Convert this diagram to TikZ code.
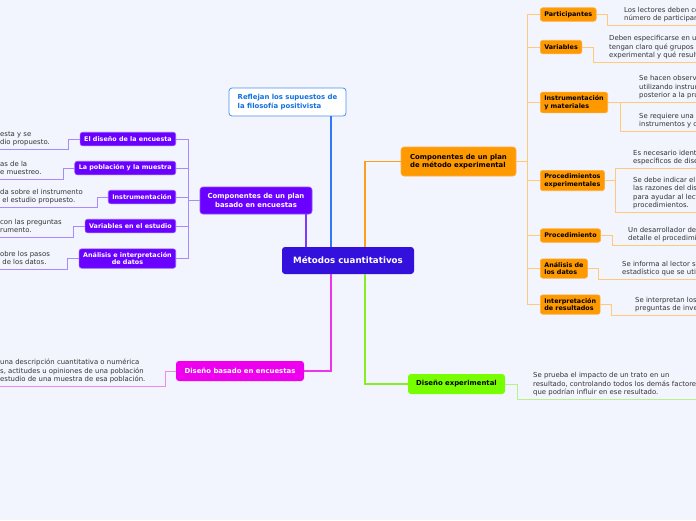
\documentclass[tikz,border=0pt]{standalone}
\usepackage{fontspec}
\setmainfont{DejaVu Sans}
\usetikzlibrary{calc}

\definecolor{bgcol}{HTML}{F2F5FD}
\definecolor{maincol}{HTML}{3310DC}
\definecolor{violetcol}{HTML}{6A00FF}
\definecolor{violetedge}{HTML}{8B4DFF}
\definecolor{violetline}{HTML}{A78BFA}
\definecolor{violetmain}{HTML}{7A3BFF}
\definecolor{orangecol}{HTML}{FF9900}
\definecolor{orangeedge}{HTML}{FFAE40}
\definecolor{orangeline}{HTML}{FFC978}
\definecolor{orangemain}{HTML}{FF9D1F}
\definecolor{magentacol}{HTML}{EE00EE}
\definecolor{magentaline}{HTML}{F08AF0}
\definecolor{magentamain}{HTML}{EE33EE}
\definecolor{greencol}{HTML}{77FF00}
\definecolor{greenline}{HTML}{B9F08A}
\definecolor{greenmain}{HTML}{88EE22}
\definecolor{bluecol}{HTML}{1070E0}
\definecolor{blueedge}{HTML}{4A90F0}
\definecolor{bluemain}{HTML}{3377F5}
\definecolor{leafcol}{HTML}{333333}

\tikzset{
  topic/.style={rounded corners=2.5pt, inner xsep=4pt, inner ysep=3.2pt, minimum height=13.5pt, align=left, font=\bfseries\fontsize{6.4}{7.8}\selectfont},
  violetbox/.style={topic, fill=violetcol, draw=violetedge, line width=0.6pt, text=white},
  orangebox/.style={topic, fill=orangecol, draw=orangeedge, line width=0.6pt, text=black},
  bigtopic/.style={rounded corners=3pt, inner sep=0pt, font=\bfseries\fontsize{6.9}{8.8}\selectfont},
  leaf/.style={anchor=south west, inner xsep=0pt, inner ysep=1.8pt, align=left, text=leafcol, font=\fontsize{6.9}{8.4}\selectfont, execute at end node=\strut},
  branch/.style={line width=0.9pt},
  twig/.style={line width=0.8pt},
  trunk/.style={line width=1.2pt},
}

\begin{document}
\begin{tikzpicture}[x=1pt,y=-1pt]
%%%%% START %%%%%
\useasboundingbox (0,0) rectangle (696,520);
\fill[bgcol] (0,0) rectangle (696,520);

% centre
\node[fill=maincol, text=white, rounded corners=3pt, minimum width=132pt, minimum height=27pt, inner sep=0pt, font=\bfseries\fontsize{8.7}{10}\selectfont] (methods) at (348,260.5) {Métodos cuantitativos};

% upper left: plan based on surveys
\node[bigtopic, fill=violetcol, draw=violetedge, line width=0.6pt, text=white, align=center, minimum width=112pt, minimum height=27pt] (plan) at (256,200.5) {Componentes de un plan\\basado en encuestas};

\node[violetbox, anchor=east] (design) at (176,139) {El diseño de la encuesta};
\node[violetbox, anchor=east] (population) at (176,168) {La población y la muestra};
\node[violetbox, anchor=east] (instrument) at (176,197) {Instrumentación};
\node[violetbox, anchor=east] (variables) at (176,226) {Variables en el estudio};
\node[violetbox, anchor=east, align=center] (analysis) at (176,258.5) {Análisis e interpretación\\de datos};

\node[leaf] (ldesign) at (0,149) {esta y se\\dio propuesto.};
\node[leaf] (lpopulation) at (0,179) {as de la\\e muestreo.};
\node[leaf] (linstrument) at (0,207) {da sobre el instrumento\\\ el estudio propuesto.};
\node[leaf] (lvariables) at (0,237) {con las preguntas\\rumento.};
\node[leaf] (lanalysis) at (0,269) {obre los pasos\\\ de los datos.};

\draw[violetline, branch] (plan.west) -- ++(-11,0) coordinate (vtrunk);
\foreach \n in {design,population,instrument,variables,analysis}
  \draw[violetline, branch] (vtrunk) |- (\n.east);
\foreach \n/\l in {design/ldesign,population/lpopulation,instrument/linstrument,variables/lvariables,analysis/lanalysis}
  \draw[violetline, twig] (\n.west) -- ++(-11,0) |- (\l.south -| -2,0);

% top: positivism
\node[bigtopic, draw=blueedge, fill=white, text=bluecol, line width=0.8pt, align=left, minimum width=117pt, minimum height=28pt] (positivism) at (287.5,102) {Reflejan los supuestos de\\la filosofía positivista};

% right: experimental plan
\node[bigtopic, fill=orangecol, draw=orangeedge, line width=0.6pt, text=black, align=left, minimum width=115pt, minimum height=29pt] (experiment) at (458.5,161.5) {Componentes de un plan\\de método experimental};

\node[orangebox, anchor=west] (participants) at (540,14.5) {Participantes};
\node[orangebox, anchor=west] (vars) at (540,47) {Variables};
\node[orangebox, anchor=west] (materials) at (540,102.5) {Instrumentación\\y materiales};
\node[orangebox, anchor=west] (procedures) at (540,180.5) {Procedimientos\\experimentales};
\node[orangebox, anchor=west] (procedure) at (540,235.5) {Procedimiento};
\node[orangebox, anchor=west] (dataan) at (540,268.5) {Análisis de\\los datos};
\node[orangebox, anchor=west] (results) at (540,304.5) {Interpretación\\de resultados};

\node[leaf] (lparticipants) at (624,25) {Los lectores deben co\\número de participant};
\node[leaf] (lvars) at (609,62) {Deben especificarse en un\\tengan claro qué grupos es\\experimental y qué resulta};
\node[leaf] (lmat1) at (639,102) {Se hacen observa\\utilizando instrum\\posterior a la pru};
\node[leaf] (lmat2) at (639,131) {Se requiere una c\\instrumentos y d};
\node[leaf] (lproc1) at (633,168) {Es necesario identif\\específicos de diseñ};
\node[leaf] (lproc2) at (633,212) {Se debe indicar el t\\las razones del dise\\para ayudar al lecto\\procedimientos.};
\node[leaf] (lprocedure) at (628,245) {Un desarrollador de p\\detalle el procedimie};
\node[leaf] (ldataan) at (622,279) {Se informa al lector so\\estadístico que se utili};
\node[leaf] (lresults) at (635,315) {Se interpretan los\\preguntas de inves};

\draw[orangeline, branch] (experiment.east) -- ++(11,0) coordinate (otrunk);
\foreach \n in {participants,vars,materials,procedures,procedure,dataan,results}
  \draw[orangeline, branch] (otrunk) |- (\n.west);
\foreach \n/\l in {participants/lparticipants,vars/lvars,procedure/lprocedure,dataan/ldataan,results/lresults}
  \draw[orangeline, twig] (\n.east) -- ++(11,0) |- (\l.south -| 698,0);
\draw[orangeline, twig] (materials.east) -- ++(12,0) coordinate (mfork) |- (lmat1.south -| 698,0);
\draw[orangeline, twig] (mfork) |- (lmat2.south -| 698,0);
\draw[orangeline, twig] (procedures.east) -- ++(11,0) coordinate (pfork) |- (lproc1.south -| 698,0);
\draw[orangeline, twig] (pfork) |- (lproc2.south -| 698,0);

% bottom left: survey design
\node[bigtopic, fill=magentacol, text=white, minimum width=128pt, minimum height=20pt] (survey) at (240,371) {Diseño basado en encuestas};
\node[leaf] (lsurvey) at (0,386) {una descripción cuantitativa o numérica\\s, actitudes u opiniones de una población\\estudio de una muestra de esa población.};
\draw[magentaline, twig] (survey.west) -- ++(-10,0) |- (lsurvey.south -| -2,0);

% bottom right: experimental design
\node[bigtopic, fill=greencol, text=black, minimum width=97pt, minimum height=20pt] (experimental) at (456.5,384) {Diseño experimental};
\node[leaf] (lexperimental) at (533,399) {Se prueba el impacto de un trato en un\\resultado, controlando todos los demás factores\\que podrían influir en ese resultado.};
\draw[greenline, twig] (experimental.east) -- ++(12,0) |- (lexperimental.south -| 698,0);

% main branches
\draw[violetmain, trunk] (methods.north -| 306,0) -- (plan.south -| 306,0);
\draw[bluemain, trunk] (methods.north -| 331,0) -- (positivism.south -| 331,0);
\draw[orangemain, trunk] (methods.north -| 365,0) |- (experiment.west);
\draw[magentamain, trunk] (methods.south -| 331,0) |- (survey.east);
\draw[greenmain, trunk] (methods.south -| 365,0) |- (experimental.west);
%%%%% END %%%%%
\end{tikzpicture}
\end{document}
